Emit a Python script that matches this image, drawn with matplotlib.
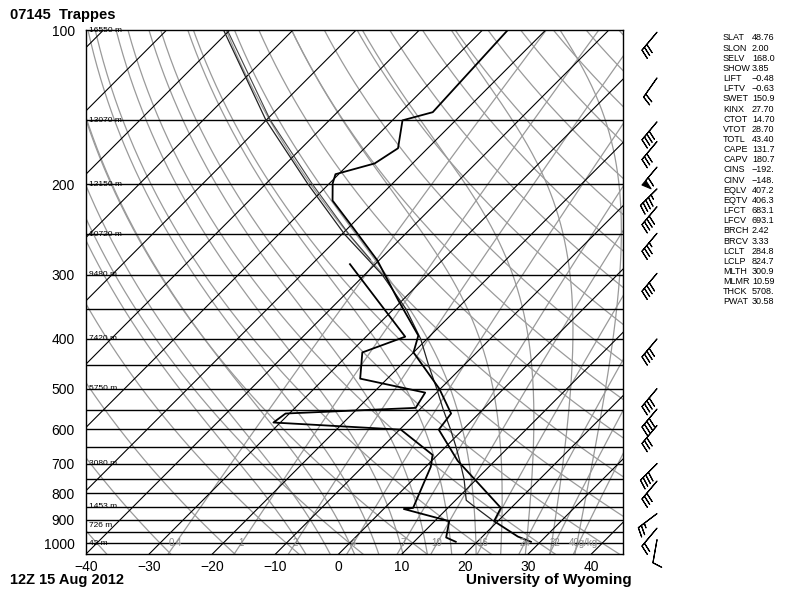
import numpy as np
import matplotlib
matplotlib.use("Agg")
import matplotlib.pyplot as plt
from matplotlib.ticker import NullLocator

plt.rcParams["font.family"] = ["Liberation Sans", "DejaVu Sans"]

# sounding data, 07145 Trappes 12Z 15 Aug 2012
temp_p = [100, 144.6, 150, 170, 182, 191, 199, 215, 238, 281, 336, 394, 425, 500, 559, 601, 691, 854, 906, 971, 994]
temp_t = [-56.0, -54.9, -58.4, -54.7, -56.0, -60.5, -59.5, -56.8, -50.5, -40.3, -30.7, -21.9, -20.0,
          -10.2, -4.4, -3.8, 4.1, 18.4, 19.4, 25.6, 28.5]

dewp_p = [286, 396, 425, 478, 509, 545, 559, 582, 601, 673, 710, 854, 858, 906, 975, 994]
dewp_t = [-44.0, -23.8, -28.1, -24.3, -11.8, -10.9, -30.6, -31.1, -9.8, -0.8, 0.8, 4.5, 3.2, 12.3, 14.4, 16.6]

parcel_p = [100, 150, 200, 250, 300, 350, 400, 450, 500, 550, 600, 650, 700, 750, 800, 825, 850, 900]
parcel_t = [-101.0, -80.0, -63.2, -49.6, -37.2, -28.0, -21.0, -15.6, -10.6, -6.2, -2.0, 1.7, 5.0, 8.0,
            10.5, 11.7, 14.1, 18.8]
parcel_v_p = [100, 150, 200, 250, 280]
parcel_v_t = [-100.4, -79.3, -62.5, -48.9, -41.5]

wind_p = [101, 124, 151, 165, 185, 204, 221, 249, 298, 400, 500, 548, 590, 700, 757, 876, 935, 985]
wind_spd = [30, 20, 40, 30, 60, 45, 40, 35, 40, 40, 40, 40, 30, 40, 30, 25, 20, 10]
wind_dir = [220, 215, 220, 220, 220, 225, 220, 220, 220, 220, 220, 220, 220, 225, 220, 233, 220, 190]

height_p = [100, 150, 200, 250, 300, 400, 500, 700, 850, 925, 1000]
height_lbl = ["16550 m", "13070 m", "12150 m", "10720 m", "9480 m", "7420 m", "5750 m",
              "3080 m", "1453 m", "726 m", "42 m"]

mixr = [0.4, 1, 2, 4, 7, 10, 16, 24, 32, 40]
mixr_lbl = ["0.4", "1", "2", "4", "7", "10", "16", "24", "32", "40g/kg"]

idx_names = ["SLAT", "SLON", "SELV", "SHOW", "LIFT", "LFTV", "SWET", "KINX", "CTOT", "VTOT", "TOTL",
             "CAPE", "CAPV", "CINS", "CINV", "EQLV", "EQTV", "LFCT", "LFCV", "BRCH", "BRCV",
             "LCLT", "LCLP", "MLTH", "MLMR", "THCK", "PWAT"]
idx_vals = ["48.76", "2.00", "168.0", "3.85", "\u22120.48", "\u22120.63", "150.9", "27.70", "14.70",
            "28.70", "43.40", "131.7", "180.7", "\u2212192.", "\u2212148.", "407.2", "406.3", "683.1",
            "693.1", "2.42", "3.33", "284.8", "824.7", "300.9", "10.59", "5708.", "30.58"]

K = 35.2
PBOT = 1050.0
Rd, cp, Lv, eps = 287.04, 1005.7, 2.501e6, 0.622


def skew(t, p):
    return np.asarray(t, dtype=float) + K * np.log(PBOT / np.asarray(p, dtype=float))


def es(tc):
    return 6.112 * np.exp(17.67 * tc / (tc + 243.5))


def dtdp(tk, p):
    e = es(tk - 273.15)
    rs = eps * e / (p - e)
    return (Rd * tk + Lv * rs) / (p * (cp + Lv * Lv * rs * eps / (Rd * tk * tk)))


def moist_adiabat(t0, pres):
    out = []
    for seg in (pres[pres <= 1000][::-1], pres[pres >= 1000]):
        tk = t0 + 273.15
        prev = 1000.0
        vals = []
        for p in seg:
            # RK2 step
            dp = p - prev
            k1 = dtdp(tk, prev)
            k2 = dtdp(tk + k1 * dp, p)
            tk = tk + 0.5 * (k1 + k2) * dp
            prev = p
            vals.append(tk - 273.15)
        out.append(np.array(vals))
    return np.concatenate([out[0][::-1], out[1]])


pp = np.exp(np.linspace(np.log(100), np.log(PBOT), 300))[::-1]
pp_up = np.exp(np.linspace(np.log(100), np.log(PBOT), 600))

fig = plt.figure(figsize=(7.85, 5.95), dpi=100)
ax = fig.add_axes([86 / 785, 1 - 554 / 595, 537 / 785, 524 / 595])
ax.set_yscale("log")
ax.set_ylim(PBOT, 100)
ax.set_xlim(-40, 45)

gray = "#9a9a9a"
for th in range(-40, 220, 10):
    t = (th + 273.15) * (pp / 1000.0) ** 0.2857 - 273.15
    ax.plot(skew(t, pp), pp, color=gray, lw=0.9)

for tw in range(-8, 40, 4):
    t = moist_adiabat(tw, pp_up)
    ax.plot(skew(t, pp_up), pp_up, color=gray, lw=0.9)

for w, lbl in zip(mixr, mixr_lbl):
    wk = w / 1000.0
    e = wk * pp / (eps + wk)
    l = np.log(e / 6.112)
    td = 243.5 * l / (17.67 - l)
    ax.plot(skew(td, pp), pp, color=gray, lw=0.9)
    e0 = wk * 1000 / (eps + wk)
    l0 = np.log(e0 / 6.112)
    x0 = skew(243.5 * l0 / (17.67 - l0), 1000)
    if lbl.endswith("g/kg"):
        ax.text(x0 - 1.6, 1000, lbl, color="#888888", fontsize=7, ha="left", va="center")
    else:
        ax.text(x0, 1000, lbl, color="#888888", fontsize=7, ha="center", va="center")

for t in range(-140, 50, 10):
    ax.plot(skew(t, pp), pp, color="k", lw=0.8)

for p in range(150, 1001, 50):
    ax.axhline(p, color="k", lw=1.0)

for p, lbl in zip(height_p, height_lbl):
    ax.text(-39.6, p, lbl, fontsize=6, va="center", ha="left")

ax.plot(skew(parcel_t, parcel_p), parcel_p, color="#222222", lw=0.9)
ax.plot(skew(parcel_v_t, parcel_v_p), parcel_v_p, color="#444444", lw=0.8)
ax.plot(skew(temp_t, temp_p), temp_p, color="k", lw=1.3)
ax.plot(skew(dewp_t, dewp_p), dewp_p, color="k", lw=1.3)

ax.set_yticks([100, 200, 300, 400, 500, 600, 700, 800, 900, 1000])
ax.set_yticklabels(["100", "200", "300", "400", "500", "600", "700", "800", "900", "1000"])
ax.yaxis.set_minor_locator(NullLocator())
ax.set_xticks(range(-40, 41, 10))
ax.set_xticklabels([str(v).replace("-", "\u2212") for v in range(-40, 41, 10)])
ax.tick_params(length=0, labelsize=10)
ax.tick_params(axis="y", pad=8)
ax.tick_params(axis="x", pad=4)
for s in ax.spines.values():
    s.set_linewidth(1.0)

# wind barbs column
axb = fig.add_axes([625 / 785, 1 - 554 / 595, 50 / 785, 524 / 595])
axb.set_yscale("log")
axb.set_ylim(PBOT, 100)
axb.set_xlim(0, 1)
axb.axis("off")
rad = np.deg2rad(wind_dir)
u = -np.array(wind_spd) * np.sin(rad)
v = -np.array(wind_spd) * np.cos(rad)
axb.barbs(np.full(len(wind_p), 0.64), wind_p, u, v, length=5.8, lw=0.8, flip_barb=True,
          sizes=dict(emptybarb=0.0, spacing=0.16, height=0.4), clip_on=False)

fig.text(10 / 785, 1 - 15 / 595, "07145  Trappes", fontsize=10.5, fontweight="bold", va="center")
fig.text(10 / 785, 1 - 580 / 595, "12Z 15 Aug 2012", fontsize=10.5, fontweight="bold", va="center")
fig.text(632 / 785, 1 - 580 / 595, "University of Wyoming", fontsize=11, fontweight="bold",
         va="center", ha="right")

y0, dy = 38, 10.15
for i, (n, val) in enumerate(zip(idx_names, idx_vals)):
    yy = 1 - (y0 + i * dy) / 595
    fig.text(723 / 785, yy, n, fontsize=6.5, va="center")
    fig.text(752 / 785, yy, val, fontsize=6.5, va="center")

fig.savefig("out.png", dpi=100)
